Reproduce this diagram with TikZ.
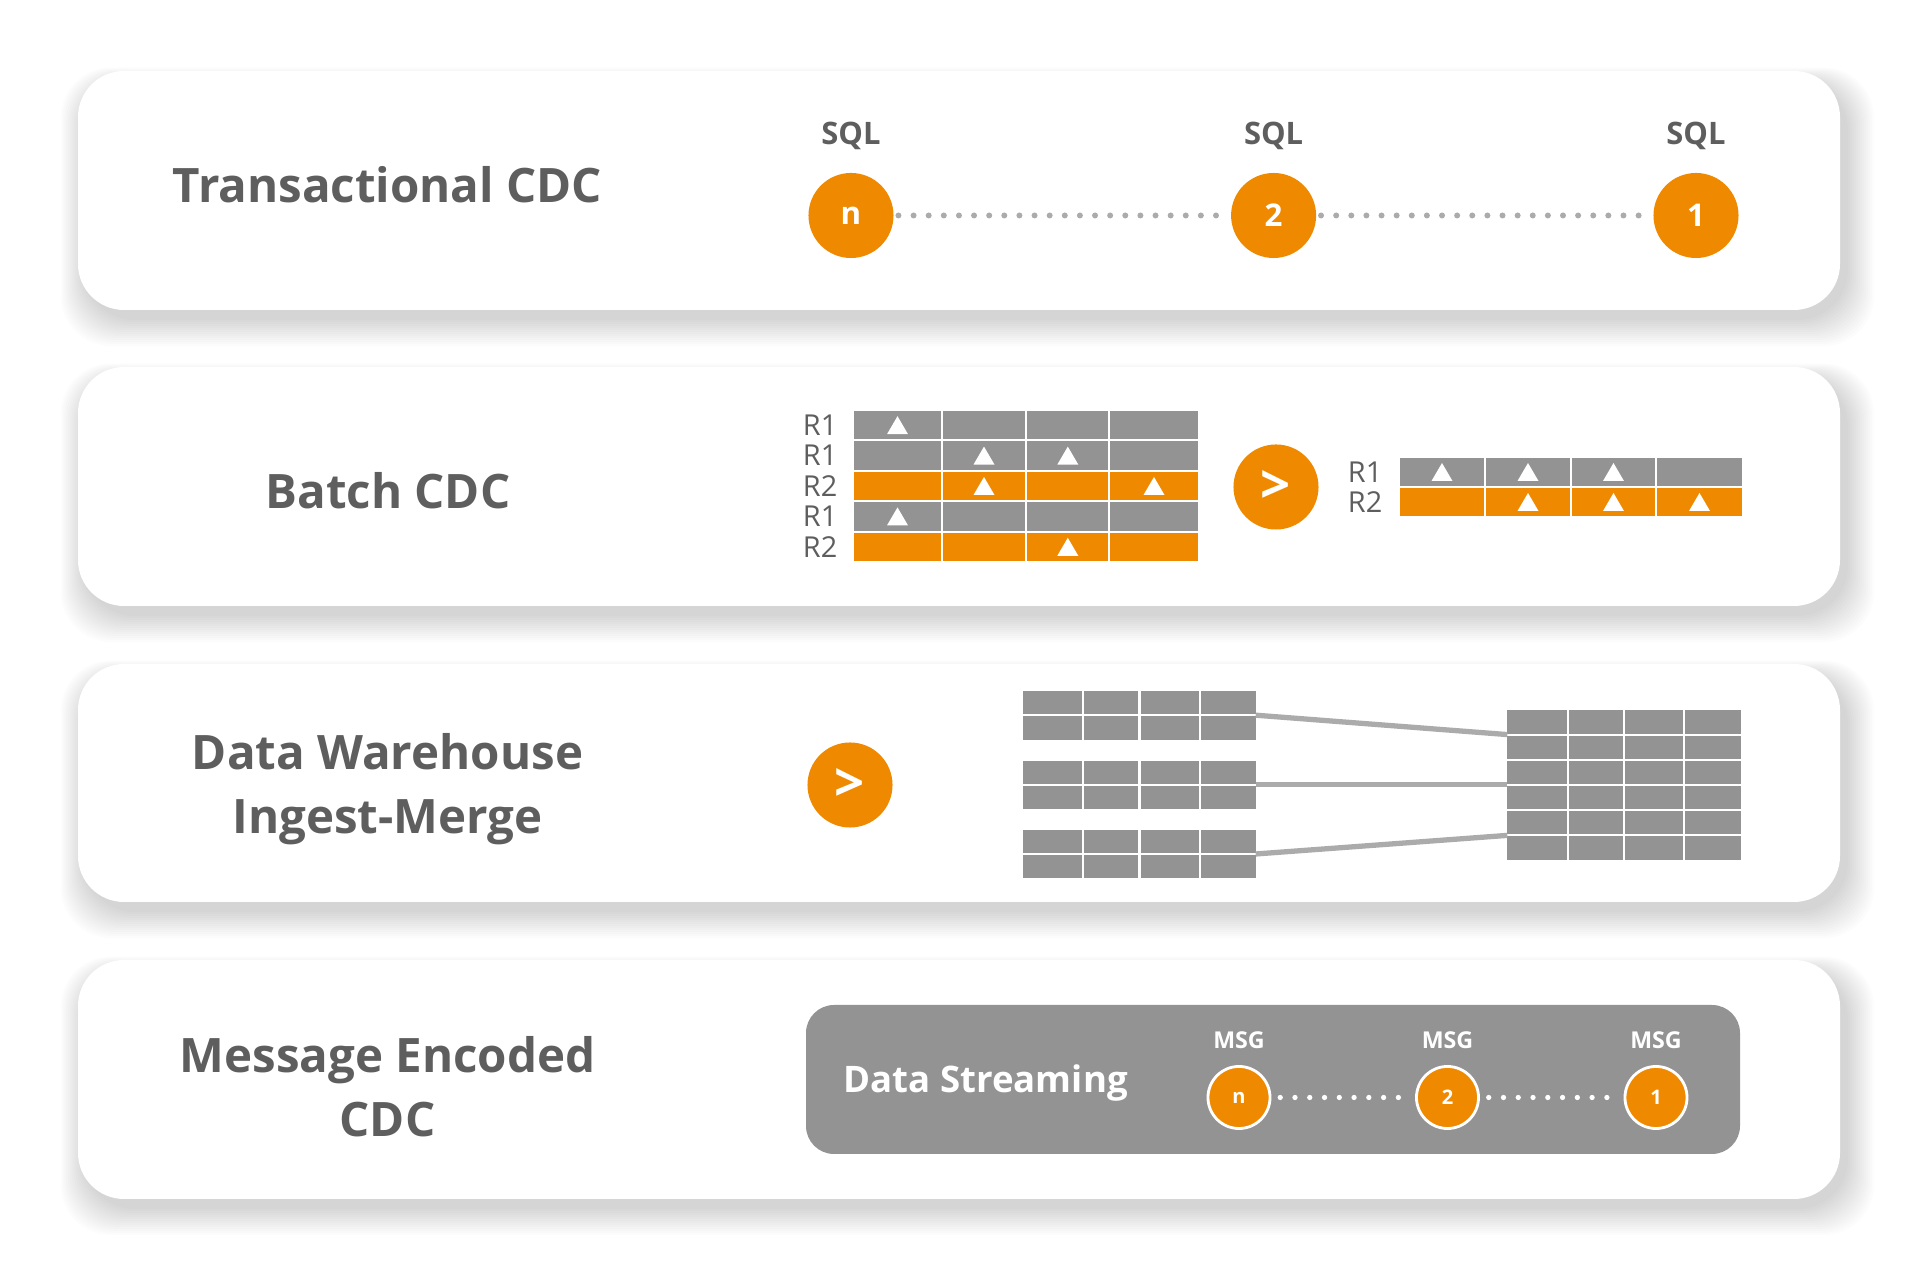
\documentclass[tikz,border=0pt]{standalone}
\usepackage{fontspec}
\setmainfont{Open Sans}

\definecolor{cdcorange}{HTML}{EF8A00}
\definecolor{cdcgray}{HTML}{939393}
\definecolor{cdctext}{HTML}{5E5E5E}
\definecolor{cdcline}{HTML}{ABABAB}
\definecolor{cdcdot}{HTML}{ABABAB}

\tikzset{
  panel/.style={fill=white, rounded corners=0.46cm},
  title/.style={font=\fontsize{13.5}{18.2}\selectfont\bfseries, text=cdctext, align=center, inner sep=0pt},
  sqllabel/.style={font=\fontsize{8.8}{10}\selectfont\bfseries, text=cdctext, inner sep=0pt},
  sqlnode/.style={circle, fill=cdcorange, minimum size=0.85cm, inner sep=0pt, text=white, font=\fontsize{8.9}{10}\selectfont\bfseries},
  gonode/.style={circle, fill=cdcorange, minimum size=0.85cm, inner sep=0pt, text=white, font=\fontsize{15}{16}\selectfont\bfseries},
  dotline/.style={cdcdot, line width=1.7pt, line cap=round, dash pattern=on 0pt off 4.3pt, shorten <=1.2pt, shorten >=1.2pt},
  rowlabel/.style={font=\fontsize{8.2}{9}\selectfont, text=cdctext, inner sep=0pt},
  cellgap/.style={white, line width=0.6pt},
  mergeline/.style={cdcline, line width=1.5pt},
  streamtitle/.style={font=\fontsize{10.4}{12}\selectfont\bfseries, text=white, inner sep=0pt},
  msglabel/.style={font=\fontsize{6.6}{8}\selectfont\bfseries, text=white, inner sep=0pt},
  msgnode/.style={circle, fill=cdcorange, draw=white, line width=0.8pt, minimum size=0.62cm, inner sep=0pt, text=white, font=\fontsize{5.7}{7}\selectfont\bfseries},
  msgdots/.style={white, line width=1.5pt, line cap=round, dash pattern=on 0pt off 4.2pt, shorten <=2.5pt, shorten >=2.5pt}
}

\newcommand{\uptri}[2]{\fill[white] (#1-10.5,#2+9) -- (#1+10.5,#2+9) -- (#1,#2-9) -- cycle;}

\begin{document}
\begin{tikzpicture}[x=0.01cm, y=-0.01cm]
  \useasboundingbox (0,0) rectangle (1920,1271);
  \fill[white] (0,0) rectangle (1920,1271);

  % four panels, soft shadow underneath
  \foreach \ya/\yb in {71/310, 367/606, 664/902, 960/1199}{
    \foreach \s in {1,...,14}
      \fill[black, opacity=0.012, rounded corners=0.5cm] (86-1.8*\s,\ya+12-1.1*\s) rectangle (1846+2*\s,\yb+8+2*\s);
    \fill[panel] (78,\ya) rectangle (1840,\yb);
  }

  % titles
  \node[title, anchor=base] (trans) at (387.5,203) {Transactional CDC};
  \node[title, anchor=base] (batch) at (388,509) {Batch CDC};
  \node[title] (dwh) at (387.5,789) {Data Warehouse\\Ingest-Merge};
  \node[title] (msgcdc) at (387.5,1087) {Message Encoded\\CDC};

  % transactional
  \node[sqlnode] (sqln) at (851,215.5) {n};
  \node[sqlnode] (sql2) at (1273.6,215.5) {2};
  \node[sqlnode] (sql1) at (1696,215.5) {1};
  \node[sqllabel, anchor=base] (sqlnlab) at (851,145) {SQL};
  \node[sqllabel, anchor=base] (sql2lab) at (1273.6,145) {SQL};
  \node[sqllabel, anchor=base] (sql1lab) at (1696,145) {SQL};
  \draw[dotline] (sqln) -- (sql2);
  \draw[dotline] (sql2) -- (sql1);

  % batch, left table
  \fill[cdcgray] (854,411) rectangle (1198,439.4);
  \fill[cdcgray] (854,441.4) rectangle (1198,469.8);
  \fill[cdcorange] (854,471.8) rectangle (1198,500.2);
  \fill[cdcgray] (854,502.2) rectangle (1198,530.6);
  \fill[cdcorange] (854,532.6) rectangle (1198,561);
  \draw[cellgap] (942,411) -- (942,561);
  \draw[cellgap] (1026.3,411) -- (1026.3,561);
  \draw[cellgap] (1109,411) -- (1109,561);
  \uptri{897.5}{425.2}
  \uptri{984}{455.6}
  \uptri{1067.8}{455.6}
  \uptri{984}{486}
  \uptri{1154}{486}
  \uptri{897.5}{516.4}
  \uptri{1067.8}{546.8}
  \node[rowlabel, anchor=east] (ra1) at (838,425.2) {R1};
  \node[rowlabel, anchor=east] (ra2) at (838,455.6) {R1};
  \node[rowlabel, anchor=east] (ra3) at (838,486) {R2};
  \node[rowlabel, anchor=east] (ra4) at (838,516.4) {R1};
  \node[rowlabel, anchor=east] (ra5) at (838,546.8) {R2};

  \node[gonode] (batchgo) at (1276,487) {>};

  % batch, right table
  \fill[cdcgray] (1400.3,458.3) rectangle (1741.7,485.7);
  \fill[cdcorange] (1400.3,488.3) rectangle (1741.7,515.7);
  \draw[cellgap] (1485,458.3) -- (1485,515.7);
  \draw[cellgap] (1571,458.3) -- (1571,515.7);
  \draw[cellgap] (1656,458.3) -- (1656,515.7);
  \uptri{1442}{472}
  \uptri{1528}{472}
  \uptri{1613.5}{472}
  \uptri{1528}{502}
  \uptri{1613.5}{502}
  \uptri{1699.5}{502}
  \node[rowlabel, anchor=east] (rb1) at (1383,472) {R1};
  \node[rowlabel, anchor=east] (rb2) at (1383,502) {R2};

  % ingest-merge
  \node[gonode] (dwhgo) at (850,785) {>};
  \fill[cdcgray] (1022.5,690.6) rectangle (1255.7,739.6);
  \fill[cdcgray] (1022.5,760.6) rectangle (1255.7,808.6);
  \fill[cdcgray] (1022.5,829.6) rectangle (1255.7,878.3);
  \draw[cellgap] (1022.5,715.2) -- (1255.7,715.2);
  \draw[cellgap] (1022.5,784.6) -- (1255.7,784.6);
  \draw[cellgap] (1022.5,854) -- (1255.7,854);
  \draw[cellgap] (1083,690.6) -- (1083,878.3);
  \draw[cellgap] (1139.5,690.6) -- (1139.5,878.3);
  \draw[cellgap] (1200,690.6) -- (1200,878.3);
  \fill[cdcgray] (1507.3,710) rectangle (1741,859.6);
  \draw[cellgap] (1507.3,734.6) -- (1741,734.6);
  \draw[cellgap] (1507.3,759.8) -- (1741,759.8);
  \draw[cellgap] (1507.3,785) -- (1741,785);
  \draw[cellgap] (1507.3,810.2) -- (1741,810.2);
  \draw[cellgap] (1507.3,835.4) -- (1741,835.4);
  \draw[cellgap] (1568,710) -- (1568,859.6);
  \draw[cellgap] (1624,710) -- (1624,859.6);
  \draw[cellgap] (1684.3,710) -- (1684.3,859.6);
  \coordinate (stage1) at (1255.7,715.2);
  \coordinate (stage2) at (1255.7,784.6);
  \coordinate (stage3) at (1255.7,854);
  \coordinate (wh1) at (1507.3,734.6);
  \coordinate (wh2) at (1507.3,784.6);
  \coordinate (wh3) at (1507.3,835.4);
  \draw[mergeline] (stage1) -- (wh1);
  \draw[mergeline] (stage2) -- (wh2);
  \draw[mergeline] (stage3) -- (wh3);

  % message encoded
  \fill[cdcgray, rounded corners=0.28cm] (806,1005) rectangle (1740,1154);
  \node[streamtitle, anchor=base west] (stream) at (843,1092.7) {Data Streaming};
  \node[msgnode] (msgn) at (1239,1097.5) {n};
  \node[msgnode] (msg2) at (1447.5,1097.5) {2};
  \node[msgnode] (msg1) at (1656,1097.5) {1};
  \node[msglabel, anchor=base] (msgnlab) at (1239,1048.3) {MSG};
  \node[msglabel, anchor=base] (msg2lab) at (1447.5,1048.3) {MSG};
  \node[msglabel, anchor=base] (msg1lab) at (1656,1048.3) {MSG};
  \draw[msgdots] (msgn) -- (msg2);
  \draw[msgdots] (msg2) -- (msg1);
\end{tikzpicture}
\end{document}
